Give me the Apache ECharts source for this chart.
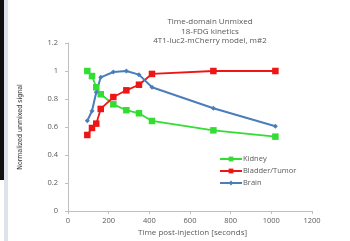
<!DOCTYPE html>
<html>
<head>
<meta charset="utf-8">
<script src="https://cdn.jsdelivr.net/npm/echarts@6/dist/echarts.min.js"></script>
<style>
    html, body { margin: 0; padding: 0; background: #fff; }
    #chart { width: 350px; height: 241px; }
    .edge { position: absolute; left: 0; top: 0; width: 4px; height: 180px; background: #111; }
    .edge2 { position: absolute; left: 4px; top: 0; width: 4px; height: 241px; background: #dde3e8; }
</style>
</head>
<body>
<div class="edge2"></div>
<div class="edge"></div>
<div id="chart"></div>
<script>
// time points (seconds)
var times = [95, 118, 139, 161, 223, 287, 349, 413, 715, 1020];
var kidney = [1.0, 0.964, 0.884, 0.834, 0.762, 0.72, 0.698, 0.643, 0.576, 0.531];
var bladder = [0.543, 0.593, 0.624, 0.729, 0.814, 0.862, 0.902, 0.979, 1.0, 1.0];
var brain = [0.645, 0.714, 0.848, 0.955, 0.993, 1.0, 0.974, 0.884, 0.734, 0.605];
var seriesNames = ['Kidney', 'Bladder/Tumor', 'Brain'];

function pairs(vals) {
    return times.map(function (t, i) { return [t, vals[i]]; });
}

var chart = echarts.init(document.getElementById('chart'));
var txt = '#595959';
var option = {
    animation: false,
    title: {
        text: 'Time-domain Unmixed\n18-FDG kinetics\n4T1-luc2-mCherry model, m#2',
        left: 205,
        top: 12,
        textAlign: 'center',
        textStyle: { fontSize: 8, fontWeight: 'normal', color: txt, lineHeight: 9.5, fontFamily: 'Open Sans' }
    },
    grid: { left: 68, right: 38, top: 43, bottom: 30 },
    legend: {
        orient: 'vertical',
        left: 214,
        top: 150,
        itemGap: 4,
        itemWidth: 22,
        itemHeight: 6,
        textStyle: { fontSize: 7.5, color: txt, fontFamily: 'Open Sans', padding: [0, 0, 0, -4] },
        data: seriesNames
    },
    xAxis: {
        type: 'value',
        min: 0, max: 1200, interval: 200,
        axisLine: { lineStyle: { color: '#bfbfbf' } },
        axisTick: { show: true, length: 3, lineStyle: { color: '#bfbfbf' } },
        axisLabel: {
            fontSize: 7.5, color: txt, margin: 6, fontFamily: 'Open Sans',
            formatter: function (v) { return String(v); }
        },
        splitLine: { show: false }
    },
    yAxis: {
        type: 'value',
        min: 0, max: 1.2, interval: 0.2,
        name: 'Normalized unmixed signal',
        nameLocation: 'middle',
        nameGap: 44,
        nameTextStyle: { fontSize: 7, color: '#333', fontFamily: 'Liberation Sans Narrow, DejaVu Sans Condensed, sans-serif' },
        axisLine: { show: true, lineStyle: { color: '#bfbfbf' } },
        axisTick: { show: true, length: 3, lineStyle: { color: '#bfbfbf' } },
        axisLabel: {
            fontSize: 7.5, color: txt, margin: 10, fontFamily: 'Open Sans',
            formatter: function (v) { return +v.toFixed(1) + ''; }
        },
        splitLine: { show: false }
    },
    graphic: [{
        type: 'text',
        left: 138,
        top: 229,
        style: { text: 'Time post-injection [seconds]', fontSize: 8, fill: txt, fontFamily: 'Open Sans' }
    }],
    series: [
        {
            name: 'Kidney', type: 'line', data: pairs(kidney),
            symbol: 'rect', symbolSize: 6.5,
            lineStyle: { width: 1.8, color: '#33dd33' },
            itemStyle: { color: '#33dd33' }
        },
        {
            name: 'Bladder/Tumor', type: 'line', data: pairs(bladder),
            symbol: 'rect', symbolSize: 6.5,
            lineStyle: { width: 1.8, color: '#ee1515' },
            itemStyle: { color: '#ee1515' }
        },
        {
            name: 'Brain', type: 'line', data: pairs(brain),
            symbol: 'diamond', symbolSize: 5,
            lineStyle: { width: 2, color: '#4a7ebb' },
            itemStyle: { color: '#4a7ebb' }
        }
    ]
};
chart.setOption(option);
</script>
</body>
</html>
